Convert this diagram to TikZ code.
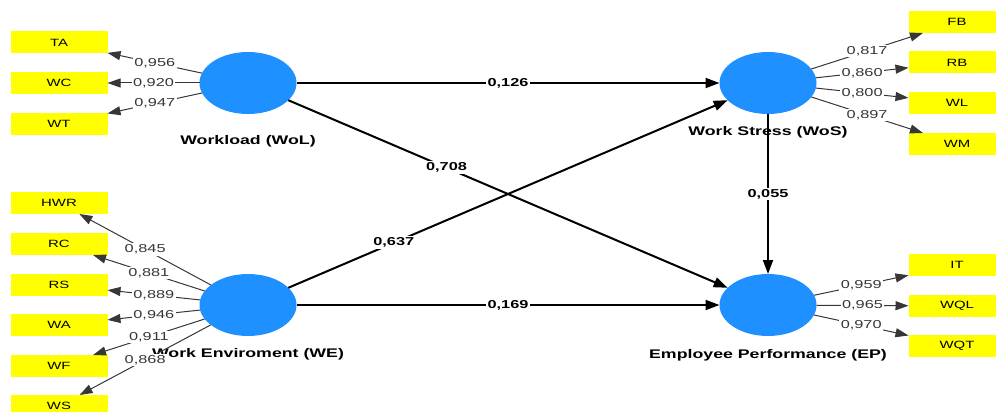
\documentclass[tikz,border=0pt]{standalone}
\usepackage{fontspec}
\newfontfamily\plsfont[FakeStretch=1.42]{Liberation Sans}
\usetikzlibrary{shapes.geometric,arrows.meta}
\definecolor{lvblue}{RGB}{30,144,255}
\definecolor{mvyellow}{RGB}{255,255,0}
\definecolor{loadgray}{RGB}{55,55,55}
\begin{document}
\begin{tikzpicture}[x=1pt, y=-1pt,
  latent/.style={ellipse, fill=lvblue, minimum width=97pt, minimum height=62pt, inner sep=0pt, outer sep=0pt},
  indicator/.style={fill=mvyellow, minimum width=97pt, minimum height=22pt, inner sep=0pt, outer sep=0pt,
    font=\plsfont\fontsize{10.5}{12}\selectfont},
  latentname/.style={font=\plsfont\bfseries\fontsize{12.5}{14}\selectfont},
  loading/.style={draw=loadgray, line width=1pt, -{Triangle[length=13pt,width=9pt]}},
  loadval/.style={fill=white, inner sep=1.5pt, text=loadgray, font=\plsfont\fontsize{11.5}{13}\selectfont},
  structural/.style={draw=black, line width=2pt, -{Triangle[length=14pt,width=10pt]}},
  pathval/.style={fill=white, inner sep=1.5pt, font=\plsfont\bfseries\fontsize{11.5}{13}\selectfont}]
\def\xl{59}
\def\xr{957}
\path[use as bounding box, clip] (0,0) rectangle (996,412);
% constructs
\node[latent] (WoL) at (248,83) {};
\node[latent] (WoS) at (768,83) {};
\node[latent] (WE) at (248,305) {};
\node[latent] (EP) at (768,305) {};
\node[latentname] (WoLname) at (248,141) {Workload (WoL)};
\node[latentname] (WoSname) at (768,132) {Work Stress (WoS)};
\node[latentname] (WEname) at (248,354) {Work Enviroment (WE)};
\node[latentname] (EPname) at (768,355) {Employee Performance (EP)};
% indicators, left
\node[indicator] (TA) at (\xl,42.5) {TA};
\node[indicator] (WC) at (\xl,83) {WC};
\node[indicator] (WT) at (\xl,124) {WT};
\node[indicator] (HWR) at (\xl,203) {HWR};
\node[indicator] (RC) at (\xl,244) {RC};
\node[indicator] (RS) at (\xl,285) {RS};
\node[indicator] (WA) at (\xl,325) {WA};
\node[indicator] (WF) at (\xl,366) {WF};
\node[indicator] (WS) at (\xl,406) {WS};
% indicators, right
\node[indicator] (FB) at (\xr,22) {FB};
\node[indicator] (RB) at (\xr,62.5) {RB};
\node[indicator] (WL) at (\xr,103) {WL};
\node[indicator] (WM) at (\xr,144) {WM};
\node[indicator] (IT) at (\xr,265) {IT};
\node[indicator] (WQL) at (\xr,306) {WQL};
\node[indicator] (WQT) at (\xr,346) {WQT};
% outer loadings
\draw[loading] (WoL) -- node[loadval] {0,956} (TA);
\draw[loading] (WoL) -- node[loadval] {0,920} (WC);
\draw[loading] (WoL) -- node[loadval] {0,947} (WT);
\draw[loading] (WE) -- node[loadval] {0,845} (HWR);
\draw[loading] (WE) -- node[loadval] {0,881} (RC);
\draw[loading] (WE) -- node[loadval] {0,889} (RS);
\draw[loading] (WE) -- node[loadval] {0,946} (WA);
\draw[loading] (WE) -- node[loadval] {0,911} (WF);
\draw[loading] (WE) -- node[loadval] {0,868} (WS);
\draw[loading] (WoS) -- node[loadval] {0,817} (FB);
\draw[loading] (WoS) -- node[loadval] {0,860} (RB);
\draw[loading] (WoS) -- node[loadval] {0,800} (WL);
\draw[loading] (WoS) -- node[loadval] {0,897} (WM);
\draw[loading] (EP) -- node[loadval] {0,959} (IT);
\draw[loading] (EP) -- node[loadval] {0,965} (WQL);
\draw[loading] (EP) -- node[loadval] {0,970} (WQT);
% inner model
\draw[structural] (WoL) -- node[pathval] {0,126} (WoS);
\draw[structural] (WoL) -- node[pathval, pos=0.36] {0,708} (EP);
\draw[structural] (WE) -- node[pathval, pos=0.24] {0,637} (WoS);
\draw[structural] (WE) -- node[pathval] {0,169} (EP);
\draw[structural] (WoS) -- node[pathval] {0,055} (EP);
\end{tikzpicture}
\end{document}
